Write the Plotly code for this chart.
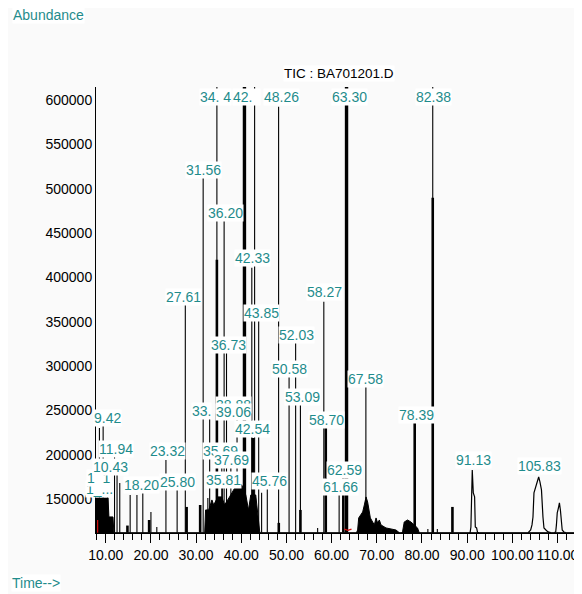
import plotly.graph_objects as go

# ---------------- data (retention time in min, abundance) ----------------
BASELINE = 112000
OFF_SCALE = 640000  # peaks that run off the top of the chart

# narrow peaks drawn as thin sticks
thin_times = [8.6, 9.42, 10.43, 11.94, 12.5, 13.1, 15.4, 16.9, 18.20, 20.0, 21.3,
              23.32, 25.80, 27.61, 31.56, 32.6, 33.0, 34.6, 35.69, 35.81, 36.20,
              36.73, 37.69, 39.06, 42.33, 42.95, 43.85, 44.5, 45.76, 48.26, 50.58,
              52.03, 53.09, 56.9, 58.27, 61.66, 67.58, 81.3, 82.38, 83.4]
thin_abund = [230000, 232400, 177100, 197400, 185000, 168100, 154500, 154500, 156800,
              135300, 118400, 194000, 160200, 369000, 512300, 151100, 240300, OFF_SCALE,
              199700, 162400, 463800, 314800, 185000, 239200, 410700, OFF_SCALE, 350900,
              157000, 162400, 592400, 288800, 326100, 256100, 117300, 372300, 154500,
              276400, 116100, OFF_SCALE, 116000]

# wider peak bodies
wide_times = [14.8, 19.6, 27.9, 30.9, 34.6, 42.54, 48.3, 53.09, 58.70, 62.59, 78.39,
              82.38, 86.74]
wide_abund = [120000, 126300, 141000, 143200, 419700, 218800, 123000, 137600, 230100,
              173700, 235800, 489700, 141000]

# very large peaks
major_times = [40.7, 63.30]
major_abund = [OFF_SCALE, OFF_SCALE]

# unresolved clusters (filled)
cluster1_t = [7.84, 7.84, 10.5, 10.7, 11.6, 11.8]
cluster1_v = [BASELINE, 151100, 151100, 129700, 129700, BASELINE]
cluster2_t = [31.9, 32.1, 32.8, 33.5, 33.9, 34.8, 35.7, 36.3, 37.4, 38.3, 39.2, 40.1,
              41.0, 41.6, 42.1, 43.2, 43.6, 44.1]
cluster2_v = [BASELINE, 137600, 137600, 148900, 143200, 152300, 152300, 143200, 152300,
              160200, 168100, 165800, 154500, 137600, 154500, 154500, 131900, BASELINE]
cluster3_t = [65.5, 65.76, 65.99, 66.51, 66.87, 67.24, 67.62, 67.97, 68.35, 68.57, 69.08,
              69.45, 69.83, 70.18, 70.56, 70.93, 72.04, 74.24, 74.97]
cluster3_v = [BASELINE, 115000, 128600, 131900, 135300, 143200, 152300, 146600, 135300,
              128600, 124000, 120700, 128600, 122900, 126300, 120700, 117300, 115000,
              BASELINE]
cluster4_t = [75.5, 75.70, 76.07, 76.81, 77.56, 78.29, 79.01, 79.39]
cluster4_v = [BASELINE, 113000, 124000, 126300, 124000, 120700, 117300, BASELINE]

# broad late-eluting peaks (outlined)
peak91_t = [90.5, 90.65, 90.83, 90.92, 91.13, 91.36, 91.65, 91.80, 92.09, 92.31, 92.6]
peak91_v = [BASELINE, BASELINE, 118400, 155600, 182700, 156800, 152300, 118400, 117300,
            BASELINE, BASELINE]
peak105_t = [103.5, 104.06, 104.35, 104.57, 104.79, 105.23, 105.56, 105.83, 106.11,
             106.45, 106.78, 107.00, 107.44, 107.89, 108.5]
peak105_v = [BASELINE, 115000, 120700, 129700, 156800, 165800, 171400, 174800, 169200,
             160200, 129700, 117300, 115000, 112800, BASELINE]
peak110_t = [109.3, 109.60, 109.76, 109.94, 110.20, 110.42, 110.64, 110.86, 111.04,
             111.41, 111.8]
peak110_v = [BASELINE, 112800, 120700, 134200, 139800, 145500, 137600, 124000, 115000,
             112800, BASELINE]

# integration markers
marker_t = [8.2, 8.2, None, 62.8, 63.6, 64.4]
marker_v = [BASELINE, 126300, None, 116000, 114500, 116000]

# peak labels as printed (overlapping ones partly hidden): text, centre time, level
label_text = ["1_...", "1\u00a0\u00a01", "10.43", "11.94", "9.42", "18.20", "23.32",
              "25.80", "27.61", "31.56", "36.20", "36.73", "33.", "38.88", "39.06",
              "42.54", "35.69", "37.69", "35.81", "45.76", "42.33", "43.85", "52.03",
              "50.58", "53.09", "58.27", "58.70", "67.58", "62.59", "61.66", "78.39",
              "91.13", "105.83", "34.\u00a04", "42.\u00a0\u00a0", "48.26", "63.30",
              "82.38"]
label_time = [8.7, 8.5, 11.15, 12.27, 10.40, 17.88, 23.73, 25.95, 27.25, 31.69, 36.55,
              37.10, 31.25, 38.3, 38.3, 42.51, 35.44, 37.76, 36.10, 46.26, 42.51, 44.39,
              52.12, 50.68, 53.66, 58.41, 58.96, 67.58, 62.83, 62.05, 78.84, 91.43,
              106.0, 34.23, 41.18, 48.91, 63.91, 82.59]
label_level = [161300, 173700, 186100, 206400, 241400, 165800, 203600, 168600, 378000,
               521300, 472800, 323800, 249300, 255500, 247600, 229000, 204500, 194000,
               171400, 170300, 422000, 359900, 335100, 296700, 265100, 383600, 239200,
               285400, 182700, 163500, 244800, 194000, 187200, 603700, 603700, 603700,
               603700, 603700]

y_ticks = [150000, 200000, 250000, 300000, 350000, 400000, 450000, 500000, 550000, 600000]

# ---------------- figure ----------------
TEAL = "#1f8c8c"
FONT = "Liberation Sans"


def sticks(times, abund):
    xs, ys = [], []
    for t, v in zip(times, abund):
        xs += [t, t, None]
        ys += [BASELINE, v, None]
    return xs, ys


fig = go.Figure()

for ct, cv in [(cluster1_t, cluster1_v), (cluster2_t, cluster2_v),
               (cluster3_t, cluster3_v), (cluster4_t, cluster4_v)]:
    fig.add_trace(go.Scatter(x=ct, y=cv, mode="lines", fill="tozeroy",
                             fillcolor="black", line=dict(color="black", width=1),
                             hoverinfo="skip"))

for ct, cv in [(peak91_t, peak91_v), (peak105_t, peak105_v), (peak110_t, peak110_v)]:
    fig.add_trace(go.Scatter(x=ct, y=cv, mode="lines",
                             line=dict(color="black", width=1.2), hoverinfo="skip"))

xs, ys = sticks(thin_times, thin_abund)
fig.add_trace(go.Scatter(x=xs, y=ys, mode="lines", line=dict(color="black", width=1.1),
                         hoverinfo="skip"))
xs, ys = sticks(wide_times, wide_abund)
fig.add_trace(go.Scatter(x=xs, y=ys, mode="lines", line=dict(color="black", width=2.6),
                         hoverinfo="skip"))
xs, ys = sticks(major_times, major_abund)
fig.add_trace(go.Scatter(x=xs, y=ys, mode="lines", line=dict(color="black", width=3.4),
                         hoverinfo="skip"))

fig.add_trace(go.Scatter(x=[7.84, 115.2], y=[BASELINE, BASELINE], mode="lines",
                         line=dict(color="black", width=1), hoverinfo="skip"))
fig.add_trace(go.Scatter(x=marker_t, y=marker_v, mode="lines",
                         line=dict(color="#d01010", width=1.2), hoverinfo="skip"))

annotations = []
for txt, t, v in zip(label_text, label_time, label_level):
    annotations.append(dict(x=t, y=v, xref="x", yref="y", text=txt, showarrow=False,
                            font=dict(family=FONT, size=14, color=TEAL),
                            bgcolor="white", borderpad=0, xanchor="center",
                            yanchor="middle"))

annotations.append(dict(x=0.5, y=1.031, xref="paper", yref="paper",
                        text="TIC : BA701201.D", showarrow=False,
                        xanchor="center", yanchor="middle",
                        font=dict(family=FONT, size=13.5, color="black"),
                        bgcolor="white", borderpad=0))
annotations.append(dict(x=-0.173, y=1.162, xref="paper", yref="paper", text="Abundance",
                        showarrow=False, xanchor="left", yanchor="middle",
                        font=dict(family=FONT, size=14, color=TEAL),
                        bgcolor="white", borderpad=0))
annotations.append(dict(x=-0.175, y=-0.112, xref="paper", yref="paper", text="Time-->",
                        showarrow=False, xanchor="left", yanchor="middle",
                        font=dict(family=FONT, size=14, color=TEAL),
                        bgcolor="white", borderpad=0))

# the page body adds an 8 px margin, so the figure is 8 px smaller than the window
fig.update_layout(
    width=574, height=586,
    margin=dict(l=88, r=1, t=79, b=61),
    paper_bgcolor="#fafafa", plot_bgcolor="#fafafa",
    showlegend=False,
    font=dict(family=FONT, color="black"),
    annotations=annotations,
    xaxis=dict(range=[7.84, 115.2], tick0=10, dtick=10, tickformat=".2f",
               ticks="outside", ticklen=9, tickcolor="black", tickwidth=1,
               showline=True, linecolor="black", linewidth=1,
               showgrid=False, zeroline=False,
               tickfont=dict(family=FONT, size=14, color="black"),
               minor=dict(dtick=2, ticks="outside", ticklen=6, tickcolor="black",
                          showgrid=False)),
    yaxis=dict(range=[111600, 614600], tickvals=y_ticks,
               ticktext=[str(v) for v in y_ticks], ticks="",
               showline=True, linecolor="black", linewidth=1,
               showgrid=False, zeroline=False,
               tickfont=dict(family=FONT, size=14, color="black")),
)

fig.write_html("out.html")
